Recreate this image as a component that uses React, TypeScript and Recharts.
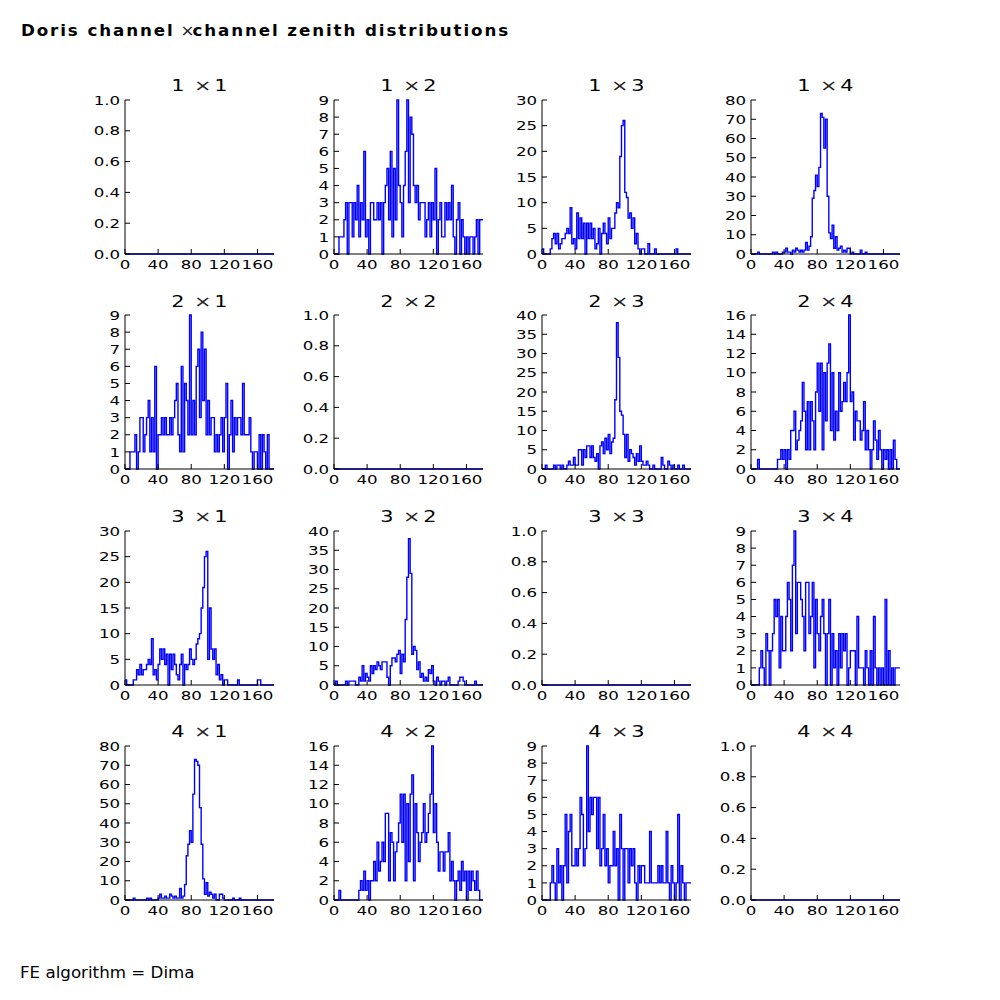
import { LineChart, Line, XAxis, YAxis } from 'recharts'

// zenith histograms, 90 bins of 2 degrees each (0..180)
const binWidth = 2
const xTicks = [0, 40, 80, 120, 160]

const ticksUnit = [0, 0.2, 0.4, 0.6, 0.8, 1.0]
const ticks9 = [0, 1, 2, 3, 4, 5, 6, 7, 8, 9]
const ticks16 = [0, 2, 4, 6, 8, 10, 12, 14, 16]
const ticks30 = [0, 5, 10, 15, 20, 25, 30]
const ticks40 = [0, 5, 10, 15, 20, 25, 30, 35, 40]
const ticks80 = [0, 10, 20, 30, 40, 50, 60, 70, 80]

const empty = [
  0, 0, 0, 0, 0, 0, 0, 0, 0, 0, 0, 0, 0, 0, 0, 0, 0, 0, 0, 0, 0, 0, 0, 0, 0, 0, 0, 0, 0, 0,
  0, 0, 0, 0, 0, 0, 0, 0, 0, 0, 0, 0, 0, 0, 0, 0, 0, 0, 0, 0, 0, 0, 0, 0, 0, 0, 0, 0, 0, 0,
  0, 0, 0, 0, 0, 0, 0, 0, 0, 0, 0, 0, 0, 0, 0, 0, 0, 0, 0, 0, 0, 0, 0, 0, 0, 0, 0, 0, 0, 0,
]

const h12 = [
  0, 0, 0, 1, 1, 1, 2, 3, 0, 3, 3, 1, 3, 2, 4, 1, 3, 2, 6, 1, 2, 0, 3, 3, 2, 2, 3, 2, 3, 0,
  3, 4, 5, 2, 6, 1, 5, 2, 9, 4, 3, 1, 4, 6, 9, 3, 8, 7, 4, 3, 4, 2, 3, 3, 3, 1, 2, 3, 1, 3,
  2, 5, 0, 2, 3, 1, 1, 3, 2, 3, 2, 4, 1, 0, 2, 3, 0, 2, 1, 0, 1, 0, 1, 1, 0, 1, 2, 0, 2, 2,
]
const h13 = [
  1, 0, 0, 0, 0, 1, 3, 4, 2, 4, 1, 2, 3, 3, 4, 5, 4, 9, 2, 3, 1, 8, 3, 7, 3, 6, 0, 6, 3, 6,
  3, 5, 1, 2, 5, 0, 4, 6, 4, 2, 7, 3, 5, 5, 8, 10, 9, 19, 25, 26, 12, 11, 7, 8, 5, 7, 2, 4, 1, 0,
  1, 1, 0, 0, 2, 0, 0, 0, 1, 0, 0, 0, 0, 0, 0, 0, 0, 0, 0, 0, 0, 1, 0, 0, 0, 0, 0, 0, 0, 0,
]
const h14 = [
  0, 0, 0, 0, 1, 0, 0, 0, 0, 0, 0, 0, 0, 1, 0, 1, 0, 0, 0, 1, 1, 3, 1, 1, 0, 2, 1, 3, 2, 1,
  2, 1, 2, 6, 2, 4, 9, 29, 33, 41, 35, 45, 73, 71, 55, 70, 30, 11, 8, 15, 3, 9, 2, 3, 4, 1, 2, 1, 3, 3,
  0, 1, 0, 0, 0, 0, 2, 0, 0, 1, 0, 0, 0, 0, 0, 0, 0, 0, 0, 0, 0, 0, 0, 0, 0, 0, 0, 0, 0, 0,
]
const h21 = [
  0, 0, 0, 1, 1, 1, 2, 0, 1, 3, 3, 1, 2, 3, 4, 1, 3, 1, 6, 0, 2, 2, 3, 2, 3, 2, 2, 3, 2, 3,
  4, 5, 2, 1, 6, 1, 5, 4, 2, 9, 2, 4, 2, 6, 7, 3, 8, 4, 7, 2, 4, 2, 3, 3, 1, 2, 1, 2, 3, 1,
  3, 5, 0, 2, 4, 1, 3, 2, 3, 3, 2, 5, 2, 2, 2, 3, 1, 0, 1, 1, 0, 2, 0, 2, 1, 0, 2, 0, 0, 0,
]
const h23 = [
  0, 0, 1, 0, 0, 0, 0, 1, 0, 1, 1, 0, 1, 0, 0, 1, 2, 1, 1, 3, 1, 1, 5, 5, 1, 5, 3, 6, 6, 3,
  6, 3, 2, 4, 0, 6, 7, 4, 8, 5, 9, 4, 7, 8, 18, 38, 29, 15, 14, 9, 3, 9, 2, 5, 4, 3, 1, 4, 2, 6,
  2, 1, 1, 2, 1, 0, 0, 1, 0, 0, 0, 0, 3, 1, 0, 0, 2, 1, 0, 1, 0, 0, 1, 0, 0, 1, 0, 0, 0, 0,
]
const h24 = [
  0, 0, 0, 0, 1, 0, 0, 0, 0, 0, 0, 0, 0, 0, 0, 0, 1, 1, 2, 1, 2, 0, 2, 1, 4, 4, 6, 2, 3, 4,
  5, 9, 6, 2, 7, 2, 7, 5, 2, 8, 11, 6, 11, 2, 10, 5, 11, 13, 4, 10, 3, 6, 4, 10, 6, 7, 9, 7, 10, 16,
  7, 8, 3, 6, 5, 5, 3, 4, 7, 2, 4, 2, 0, 2, 5, 3, 1, 4, 2, 0, 2, 1, 2, 0, 2, 0, 3, 1, 0, 0,
]
const h31 = [
  1, 0, 0, 0, 0, 1, 1, 3, 2, 4, 2, 3, 3, 4, 5, 4, 9, 2, 3, 1, 4, 7, 5, 7, 4, 6, 0, 6, 3, 6,
  4, 2, 1, 4, 6, 0, 4, 3, 4, 7, 5, 4, 5, 8, 9, 10, 15, 19, 25, 26, 5, 15, 7, 5, 7, 2, 4, 1, 2, 0,
  1, 1, 0, 0, 0, 0, 0, 0, 1, 0, 0, 0, 0, 0, 0, 0, 0, 0, 0, 0, 1, 1, 0, 0, 0, 0, 0, 0, 0, 0,
]
const h32 = [
  0, 1, 0, 0, 0, 0, 0, 1, 0, 1, 1, 1, 1, 0, 0, 2, 1, 5, 1, 3, 2, 1, 5, 3, 5, 4, 6, 5, 4, 6,
  6, 6, 2, 0, 5, 7, 7, 6, 8, 9, 3, 8, 6, 17, 28, 38, 29, 8, 10, 9, 4, 6, 2, 3, 1, 2, 1, 4, 3, 5,
  1, 0, 2, 1, 0, 1, 1, 0, 1, 2, 0, 0, 0, 0, 0, 1, 2, 2, 1, 0, 0, 0, 0, 0, 0, 1, 0, 0, 0, 0,
]
const h34 = [
  0, 0, 0, 0, 0, 1, 2, 1, 0, 3, 2, 0, 2, 3, 5, 4, 5, 1, 4, 2, 2, 4, 6, 5, 2, 7, 9, 3, 6, 6,
  5, 4, 2, 6, 6, 3, 4, 6, 1, 5, 3, 2, 4, 5, 3, 0, 3, 5, 0, 3, 1, 2, 0, 3, 1, 3, 2, 3, 0, 1,
  2, 2, 2, 0, 4, 1, 1, 1, 0, 2, 1, 0, 2, 0, 4, 1, 0, 1, 0, 1, 0, 5, 0, 2, 0, 1, 0, 1, 1, 1,
]
const h41 = [
  0, 0, 0, 0, 0, 1, 0, 0, 0, 0, 0, 0, 0, 1, 0, 1, 0, 0, 0, 0, 1, 3, 1, 1, 2, 1, 1, 3, 2, 1,
  2, 1, 1, 6, 1, 2, 8, 23, 29, 36, 30, 55, 73, 72, 70, 48, 29, 11, 3, 9, 2, 4, 3, 1, 3, 0, 0, 3, 3, 1,
  0, 0, 0, 0, 0, 1, 0, 0, 0, 1, 0, 0, 0, 0, 0, 0, 0, 0, 0, 0, 0, 0, 0, 0, 0, 0, 0, 0, 0, 0,
]
const h42 = [
  0, 0, 0, 1, 0, 0, 0, 0, 0, 0, 0, 0, 0, 0, 0, 1, 2, 1, 3, 1, 2, 0, 2, 2, 4, 2, 6, 3, 4, 6,
  4, 9, 9, 2, 7, 6, 2, 5, 6, 8, 11, 6, 11, 2, 10, 4, 11, 13, 2, 10, 7, 4, 6, 7, 10, 6, 7, 9, 11, 16,
  7, 10, 6, 3, 5, 5, 3, 5, 5, 7, 2, 4, 2, 0, 2, 3, 1, 4, 2, 3, 0, 3, 1, 3, 2, 1, 3, 1, 0, 0,
]
const h43 = [
  0, 0, 0, 0, 0, 1, 2, 1, 0, 3, 1, 2, 0, 2, 5, 1, 4, 5, 2, 2, 3, 2, 3, 6, 5, 2, 3, 9, 4, 6,
  5, 6, 6, 3, 6, 2, 3, 5, 2, 3, 1, 2, 2, 4, 2, 3, 0, 5, 3, 0, 3, 3, 1, 3, 2, 3, 1, 0, 2, 1,
  2, 2, 1, 1, 1, 4, 1, 1, 1, 1, 2, 1, 2, 1, 1, 4, 1, 0, 2, 1, 0, 1, 5, 0, 2, 1, 0, 1, 1, 1,
]

// grid of panels: [row][col]
const panelCounts = [
  [empty, h12, h13, h14],
  [h21, empty, h23, h24],
  [h31, h32, empty, h34],
  [h41, h42, h43, empty],
]
const panelTicks = [
  [ticksUnit, ticks9, ticks30, ticks80],
  [ticks9, ticksUnit, ticks40, ticks16],
  [ticks30, ticks40, ticksUnit, ticks9],
  [ticks80, ticks16, ticks9, ticksUnit],
]

const COL_LEFT = [125, 333.65, 542.3, 750.96]
const ROW_TOP = [100, 315.38, 530.77, 746.15]
const PLOT_W = 149
const PLOT_H = 154
const PAD_L = 50
const PAD_T = 10
const PAD_R = 12
const PAD_B = 28
const FONT = "'DejaVu Sans', sans-serif"
// the reference text is drawn a little wide, so ticks are stretched horizontally
const TICK_FS = 13
const TICK_SX = 1.28

function XTick(props: any) {
  const { x, y, payload } = props
  return (
    <text
      transform={`translate(${x},${y}) scale(${TICK_SX},1)`}
      textAnchor="middle"
      dy="0.71em"
      fontSize={TICK_FS}
      fontFamily={FONT}
      fill="#000"
    >
      {payload.value}
    </text>
  )
}

function YTick(props: any) {
  const { x, y, payload, fmt } = props
  return (
    <text
      transform={`translate(${x},${y}) scale(${TICK_SX},1)`}
      textAnchor="end"
      dy="0.36em"
      fontSize={TICK_FS}
      fontFamily={FONT}
      fill="#000"
    >
      {fmt(payload.value)}
    </text>
  )
}

function toSteps(counts: number[]) {
  const rows = counts.map((v, i) => ({ x: i * binWidth, y: v }))
  rows.push({ x: counts.length * binWidth, y: counts[counts.length - 1] })
  return rows
}

function Panel({ row, col }: { row: number; col: number }) {
  const counts = panelCounts[row][col]
  const yTicks = panelTicks[row][col]
  const yMax = yTicks[yTicks.length - 1]
  const isUnit = yMax === 1
  const fmt = (v: number) => (isUnit ? v.toFixed(1) : String(v))
  const left = COL_LEFT[col]
  const top = ROW_TOP[row]

  return (
    <>
      <div
        style={{
          position: 'absolute',
          left,
          top: top - 24.8,
          width: PLOT_W,
          textAlign: 'center',
          fontSize: 16.7,
          lineHeight: '20px',
          fontFamily: FONT,
          whiteSpace: 'nowrap',
          transform: 'scaleX(1.25)',
        }}
      >
        <span>{row + 1}</span>
        <span style={{ marginLeft: 7.5, marginRight: 2.3, color: '#222' }}>×</span>
        <span>{col + 1}</span>
      </div>
      <div style={{ position: 'absolute', left: left - PAD_L, top: top - PAD_T }}>
        <LineChart
          width={PAD_L + PLOT_W + PAD_R}
          height={PAD_T + PLOT_H + PAD_B}
          data={toSteps(counts)}
          margin={{ top: PAD_T, right: PAD_R, left: 0, bottom: 0 }}
        >
          <XAxis
            xAxisId="b"
            dataKey="x"
            type="number"
            domain={[0, 180]}
            ticks={xTicks}
            interval={0}
            height={PAD_B}
            tickSize={-5}
            tickMargin={10.8}
            stroke="#000"
            tick={(p: any) => <XTick {...p} />}
          />
          <XAxis
            xAxisId="t"
            orientation="top"
            dataKey="x"
            type="number"
            domain={[0, 180]}
            ticks={xTicks}
            interval={0}
            height={0}
            tickSize={-5}
            stroke="#000"
            tick={false}
          />
          <YAxis
            yAxisId="l"
            type="number"
            domain={[0, yMax]}
            ticks={yTicks}
            interval={0}
            width={PAD_L}
            tickSize={-5}
            tickMargin={9.8}
            stroke="#000"
            tick={(p: any) => <YTick {...p} fmt={fmt} />}
          />
          <YAxis
            yAxisId="r"
            orientation="right"
            type="number"
            domain={[0, yMax]}
            ticks={yTicks}
            interval={0}
            width={0}
            tickSize={-5}
            stroke="#000"
            tick={false}
          />
          <Line
            xAxisId="b"
            yAxisId="l"
            type="stepAfter"
            dataKey="y"
            stroke="#0000ff"
            strokeWidth={1.4}
            dot={false}
            activeDot={false}
            isAnimationActive={false}
          />
        </LineChart>
      </div>
    </>
  )
}

export default function App() {
  const cells = []
  for (let r = 0; r < 4; r++) {
    for (let c = 0; c < 4; c++) {
      cells.push(<Panel key={`${r}-${c}`} row={r} col={c} />)
    }
  }
  return (
    <div
      style={{
        position: 'absolute',
        left: 0,
        top: 0,
        width: 1000,
        height: 1000,
        background: '#fff',
        fontFamily: FONT,
        color: '#000',
      }}
    >
      <div
        style={{
          position: 'absolute',
          left: 21,
          top: 19.7,
          fontSize: 16.7,
          lineHeight: '20px',
          fontWeight: 'bold',
          letterSpacing: '1.9px',
          whiteSpace: 'nowrap',
        }}
      >
        Doris channel
        <span style={{ fontWeight: 'normal', marginLeft: 6, marginRight: -2, letterSpacing: 0, color: '#222' }}>×</span>
        channel zenith distributions
      </div>
      {cells}
      <div
        style={{
          position: 'absolute',
          left: 20,
          top: 961.5,
          fontSize: 16.7,
          lineHeight: '20px',
          whiteSpace: 'nowrap',
        }}
      >
        FE algorithm = Dima
      </div>
    </div>
  )
}
